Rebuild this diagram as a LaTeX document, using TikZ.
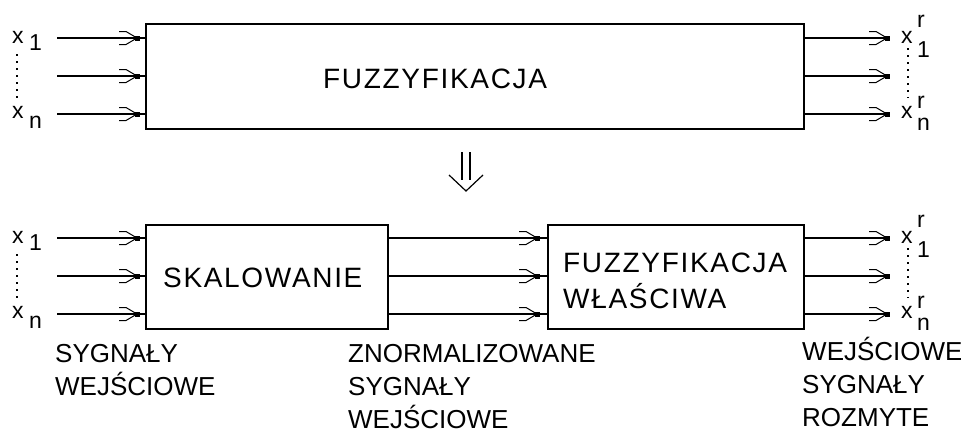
\documentclass[tikz,border=0pt]{standalone}
\usepackage{fontspec}
\setmainfont{Liberation Sans}
\newfontfamily\boxfont[LetterSpace=6]{Liberation Sans}
\newfontfamily\labfont{Liberation Sans}
\usetikzlibrary{decorations.markings}
\tikzset{
  blk/.style={draw, line width=1.5pt, inner sep=0pt},
  wire/.style={line width=1.2pt},
  % open chevron tip with a small square at its point
  sigtip/.style={wire, decoration={markings, mark=at position #1 with {
      \draw[line width=1pt] (-18,-6.5) -- (-11,-6.5) -- (0,0) -- (-11,6.5) -- (-18,6.5);
      \fill (-2.5,-2.5) rectangle (2.5,2.5);}}, postaction=decorate},
  sigtip/.default=1,
  boxtxt/.style={anchor=base west, inner sep=0pt, font=\boxfont\fontsize{28}{34}\selectfont},
  labtxt/.style={anchor=base west, inner sep=0pt, font=\labfont\fontsize{26}{33}\selectfont},
  vtxt/.style={anchor=base west, inner sep=0pt, font=\labfont\fontsize{23}{26}\selectfont},
  dots/.style={line width=1.6pt, dash pattern=on 1.6pt off 5.4pt},
}
\begin{document}
\begin{tikzpicture}[x=1pt, y=-1pt]
\useasboundingbox (0,0) rectangle (961,434);

% ---------- upper block ----------
\node[blk, minimum width=658, minimum height=105, anchor=north west] (fz) at (145,23) {};
\node[boxtxt] (fzt) at (323,88) {FUZZYFIKACJA};

\foreach \k/\y in {1/38,2/76,3/114} {
  \coordinate (ti\k) at (57,\y);
  \coordinate (to\k) at (887,\y);
  \draw[sigtip=-8pt] (ti\k) -- (ti\k -| fz.west);
  \draw[sigtip] (to\k -| fz.east) -- (to\k);
}

% input labels
\node[vtxt] (tx1) at (12,43) {x};
\node[vtxt] (tx1s) at (29,50) {1};
\node[vtxt] (txn) at (12,118) {x};
\node[vtxt] (txns) at (29,128) {n};
\draw[dots] (17,54) -- (17,98);

% output labels
\node[vtxt] (ty1) at (901,43) {x};
\node[vtxt] (ty1r) at (917,27) {r};
\node[vtxt] (ty1s) at (917,57) {1};
\node[vtxt] (tyn) at (901,118) {x};
\node[vtxt] (tynr) at (917,108) {r};
\node[vtxt] (tyns) at (917,130) {n};
\draw[dots] (908,48) -- (908,98);

% ---------- transition arrow ----------
\coordinate (da) at (466,152);
\coordinate (db) at (466,191);
\draw[line width=1.3pt] ([xshift=-4]da) -- ([xshift=-4]db |- 0,180)
                        ([xshift=4]da) -- ([xshift=4]db |- 0,180);
\draw[line width=1.2pt] (449,175) -- (db) -- (483,175);

% ---------- lower chain ----------
\node[blk, minimum width=242, minimum height=104, anchor=north west] (sk) at (145,224) {};
\node[boxtxt] (skt) at (163,287) {SKALOWANIE};
\node[blk, minimum width=256, minimum height=104, anchor=north west] (fw) at (547,224) {};
\node[boxtxt] (fwt) at (563,272) {FUZZYFIKACJA};
\node[boxtxt] (fwt2) at (563,308) {WŁAŚCIWA};

\foreach \k/\y in {1/238,2/276,3/314} {
  \coordinate (bi\k) at (57,\y);
  \coordinate (bo\k) at (887,\y);
  \draw[sigtip=-8pt] (bi\k) -- (bi\k -| sk.west);
  \draw[sigtip=-10pt] (bi\k -| sk.east) -- (bi\k -| fw.west);
  \draw[sigtip] (bo\k -| fw.east) -- (bo\k);
}

\node[vtxt] (bx1) at (12,243) {x};
\node[vtxt] (bx1s) at (29,250) {1};
\node[vtxt] (bxn) at (12,318) {x};
\node[vtxt] (bxns) at (29,328) {n};
\draw[dots] (17,254) -- (17,298);

\node[vtxt] (by1) at (901,243) {x};
\node[vtxt] (by1r) at (917,227) {r};
\node[vtxt] (by1s) at (917,257) {1};
\node[vtxt] (byn) at (901,318) {x};
\node[vtxt] (bynr) at (917,308) {r};
\node[vtxt] (byns) at (917,330) {n};
\draw[dots] (908,248) -- (908,298);

% signal descriptions
\node[labtxt] (l1a) at (55,362) {SYGNAŁY};
\node[labtxt] (l1b) at (55,395) {WEJŚCIOWE};
\node[labtxt] (l2a) at (348,362) {ZNORMALIZOWANE};
\node[labtxt] (l2b) at (348,395) {SYGNAŁY};
\node[labtxt] (l2c) at (348,428) {WEJŚCIOWE};
\node[labtxt] (l3a) at (802,360) {WEJŚCIOWE};
\node[labtxt] (l3b) at (802,393) {SYGNAŁY};
\node[labtxt] (l3c) at (802,426) {ROZMYTE};
\end{tikzpicture}
\end{document}
